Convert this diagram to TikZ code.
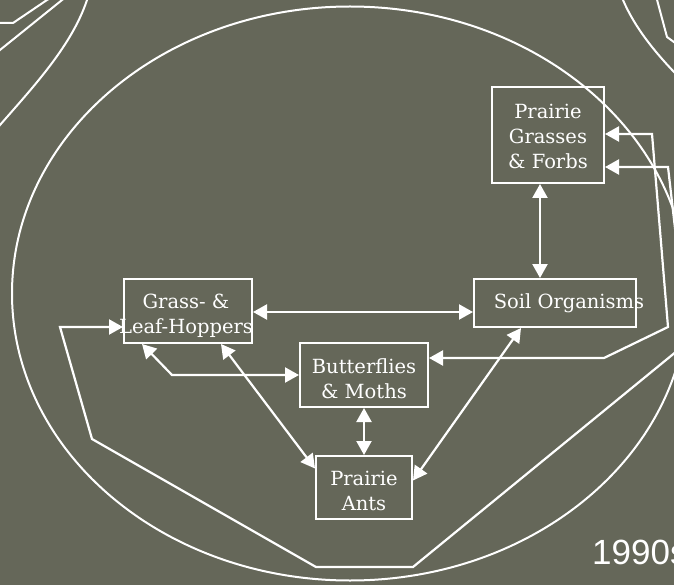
\documentclass[tikz,border=0pt]{standalone}
\usepackage{fontspec}
\setmainfont{DejaVu Serif}
\newfontfamily\yearfont{Liberation Sans}
\usetikzlibrary{arrows.meta,calc}
\definecolor{bgolive}{RGB}{101,103,89}
\begin{document}
\begin{tikzpicture}[x=1pt,y=-1pt,
  box/.style={draw=white,line width=2pt,inner sep=0pt},
  lbl/.style={text=white,align=center,font=\fontsize{19.5pt}{25pt}\selectfont,inner sep=0pt},
  link/.style={draw=white,line width=2.2pt,{Triangle[length=14pt,width=15pt]}-{Triangle[length=14pt,width=15pt]}},
  deco/.style={draw=white,line width=2pt}]
\useasboundingbox (0,0) rectangle (674,585);
\clip (0,0) rectangle (674,585);
\fill[bgolive] (0,0) rectangle (674,585);
% background ellipse and slide decorations
\draw[deco] (350,293.5) ellipse [x radius=338, y radius=287];
\draw[deco] (-5,23) -- (13,23) -- (47,0) -- (52,-3);
\draw[deco] (-5,54) -- (67,-4);
\draw[deco] (-3,129) -- (0,125) .. controls (35,85) and (72,45) .. (87,0) -- (88,-4);
\draw[deco] (621,-4) -- (623,0) .. controls (635,28) and (655,52) .. (674,72) -- (678,76);
\draw[deco] (656,-4) -- (667,37) -- (678,45);
% boxes
\node[box,minimum width=112pt,minimum height=96pt] (pg) at (548,135) {};
\node[box,minimum width=162pt,minimum height=48pt] (so) at (555,303) {};
\node[box,minimum width=128pt,minimum height=64pt] (hp) at (188,311) {};
\node[box,minimum width=128pt,minimum height=64pt] (bf) at (364,375) {};
\node[box,minimum width=96pt,minimum height=63pt] (an) at (364,487.5) {};
% labels
\node[lbl] (pgt) at (548,136) {Prairie\\Grasses\\\& Forbs};
\node[lbl] (sot) at (569,303) {Soil Organisms};
\node[lbl] (hpt) at (186,316) {Grass- \&\\Leaf-Hoppers};
\node[lbl] (bft) at (364,379) {Butterflies\\\& Moths};
\node[lbl] (ant) at (364,491) {Prairie\\Ants};
% connectors
\draw[link] ([xshift=-8pt]pg.south) -- ([xshift=-8pt]pg.south |- so.north);
\draw[link] ([yshift=-1pt]hp.east) -- ([yshift=-1pt]hp.east -| so.west);
\draw[link] ([xshift=-46pt]hp.south) -- (172,375) -- (bf.west);
\draw[link] ([xshift=33pt]hp.south) -- ([yshift=19pt]an.west);
\draw[link] (bf.south) -- (an.north);
\draw[link] ([yshift=7pt]an.east) -- ([xshift=-34pt]so.south);
\draw[link] ([yshift=1pt]pg.east) -- (652,134) -- (668,327) -- (604,358) -- ([yshift=17pt]bf.east);
\draw[link] ([yshift=-32pt]pg.east) -- (668,167) -- (688,342) -- (413,567) -- (316,567) -- (92,439) -- (60,327) -- ([yshift=-16pt]hp.west);
% year
\node[anchor=base west,text=white,font=\yearfont\fontsize{35pt}{35pt}\selectfont,inner sep=0pt] (yr) at (592,564) {1990s};
\end{tikzpicture}
\end{document}
